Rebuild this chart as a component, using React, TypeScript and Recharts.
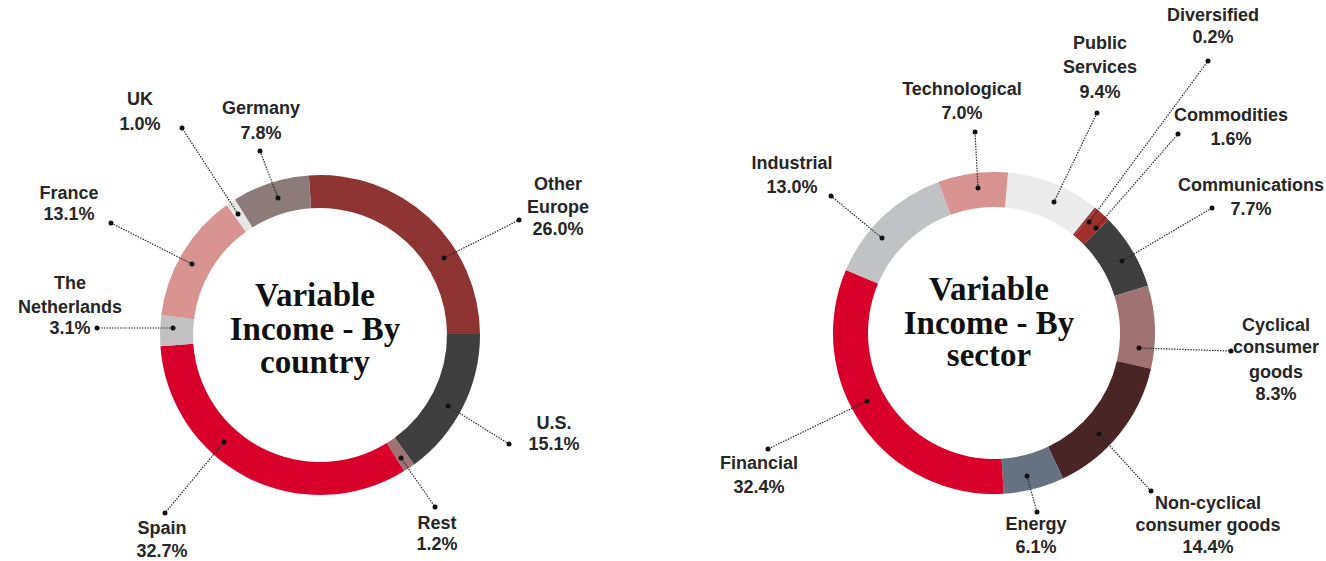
import { PieChart, Pie, Cell, Label } from "recharts";

const countryNames = ["Other Europe", "U.S.", "Rest", "Spain", "The Netherlands", "France", "UK", "Germany"];
const countryValues = [26.0, 15.1, 1.2, 32.7, 3.1, 13.1, 1.0, 7.8];
const countryColors = ["#8e3533", "#3f3f3f", "#a07474", "#d8002a", "#c1c1c1", "#d99391", "#e6e6e6", "#8c7b78"];

const sectorNames = [
  "Public Services",
  "Diversified",
  "Commodities",
  "Communications",
  "Cyclical consumer goods",
  "Non-cyclical consumer goods",
  "Energy",
  "Financial",
  "Industrial",
  "Technological",
];
const sectorValues = [9.4, 0.2, 1.6, 7.7, 8.3, 14.4, 6.1, 32.4, 13.0, 7.0];
const sectorColors = ["#ebebeb", "#8e3533", "#a0302c", "#3f3f3f", "#9f7371", "#4a2525", "#647282", "#d8002a", "#c1c2c3", "#d99391"];

const countryData = countryNames.map((name, i) => ({ name, value: countryValues[i] }));
const sectorData = sectorNames.map((name, i) => ({ name, value: sectorValues[i] }));

// label placement, offsets from the pie centre
type LabelLayout = { lines: string[]; ring: [number, number]; end: [number, number]; tx: number; ty: number[] };

const countryLabels: LabelLayout[] = [
  { lines: ["Other", "Europe"], ring: [124, -77], end: [199, -115], tx: 238, ty: [-147, -124, -102] },
  { lines: ["U.S."], ring: [128, 71], end: [189, 109], tx: 234, ty: [92, 113] },
  { lines: ["Rest"], ring: [81, 123], end: [115, 172], tx: 117, ty: [192, 213] },
  { lines: ["Spain"], ring: [-96, 107], end: [-155, 178], tx: -158, ty: [197, 220] },
  { lines: ["The", "Netherlands"], ring: [-147, -7], end: [-223, -7], tx: -250, ty: [-48, -24, -3] },
  { lines: ["France"], ring: [-128, -71], end: [-209, -112], tx: -251, ty: [-138, -117] },
  { lines: ["UK"], ring: [-82, -121], end: [-138, -207], tx: -180, ty: [-232, -207] },
  { lines: ["Germany"], ring: [-42, -137], end: [-60, -184], tx: -59, ty: [-223, -198] },
];

const sectorLabels: LabelLayout[] = [
  { lines: ["Public", "Services"], ring: [60, -131], end: [103, -220], tx: 106, ty: [-286, -262, -237] },
  { lines: ["Diversified"], ring: [95, -111], end: [214, -272], tx: 219, ty: [-314, -292] },
  { lines: ["Commodities"], ring: [102, -105], end: [184, -199], tx: 237, ty: [-214, -190] },
  { lines: ["Communications"], ring: [128, -72], end: [218, -125], tx: 257, ty: [-144, -120] },
  { lines: ["Cyclical", "consumer", "goods"], ring: [145, 15], end: [237, 18], tx: 282, ty: [-4, 18, 43, 65] },
  { lines: ["Non-cyclical", "consumer goods"], ring: [105, 101], end: [157, 158], tx: 214, ty: [174, 196, 218] },
  { lines: ["Energy"], ring: [33, 143], end: [43, 179], tx: 42, ty: [195, 218] },
  { lines: ["Financial"], ring: [-127, 68], end: [-226, 116], tx: -235, ty: [134, 158] },
  { lines: ["Industrial"], ring: [-112, -95], end: [-163, -137], tx: -202, ty: [-166, -142] },
  { lines: ["Technological"], ring: [-16, -145], end: [-19, -201], tx: -32, ty: [-240, -216] },
];

const labelFont = "'Liberation Sans', Arial, sans-serif";
const titleFont = "'Liberation Serif', 'Times New Roman', serif";

const makeLabel = (layout: LabelLayout[], fx: number, fy: number) => (props: any) => {
  const cx = typeof props.cx === "number" ? props.cx : fx;
  const cy = typeof props.cy === "number" ? props.cy : fy;
  const l = layout[props.index];
  if (!l) return null;
  const value = props.value ?? props.payload?.value;
  const lines = [...l.lines, `${Number(value).toFixed(1)}%`];
  const x1 = cx + l.ring[0];
  const y1 = cy + l.ring[1];
  const x2 = cx + l.end[0];
  const y2 = cy + l.end[1];
  return (
    <g key={`lbl-${props.index}`}>
      <line x1={x1} y1={y1} x2={x2} y2={y2} stroke="#2a2a2a" strokeWidth={1.2} strokeDasharray="1.5 1.2" />
      <circle cx={x1} cy={y1} r={2.5} fill="#111" />
      <circle cx={x2} cy={y2} r={2.5} fill="#111" />
      <text textAnchor="middle" fill="#262626" fontSize={18} fontWeight="bold" fontFamily={labelFont}>
        {lines.map((s, i) => (
          <tspan key={i} x={cx + l.tx} y={cy + l.ty[i] + 1.5}>
            {s}
          </tspan>
        ))}
      </text>
    </g>
  );
};

const makeTitle = (lines: string[], offsets: number[], fx: number, fy: number) => (props: any) => {
  const vb = props.viewBox || {};
  const cx = typeof vb.cx === "number" ? vb.cx : fx;
  const cy = typeof vb.cy === "number" ? vb.cy : fy;
  return (
    <text textAnchor="middle" fill="#111" fontSize={33} fontWeight="bold" fontFamily={titleFont}>
      {lines.map((s, i) => (
        <tspan key={i} x={cx} y={cy + offsets[i]}>
          {s}
        </tspan>
      ))}
    </text>
  );
};

export default function App() {
  return (
    <div style={{ position: "absolute", left: 0, top: 0, background: "#fff" }}>
      <PieChart width={1326} height={561}>
        <Pie
          data={countryData}
          dataKey="value"
          nameKey="name"
          cx={315}
          cy={330}
          innerRadius={127}
          outerRadius={160}
          startAngle={94}
          endAngle={-266}
          stroke="none"
          labelLine={false}
          label={makeLabel(countryLabels, 315, 330)}
          isAnimationActive={false}
        >
          {countryData.map((d, i) => (
            <Cell key={d.name} fill={countryColors[i]} />
          ))}
          <Label position="center" content={makeTitle(["Variable", "Income - By", "country"], [-24, 10, 43], 315, 330)} />
        </Pie>
        <Pie
          data={sectorData}
          dataKey="value"
          nameKey="name"
          cx={989}
          cy={328}
          innerRadius={126}
          outerRadius={161}
          startAngle={85}
          endAngle={-275}
          stroke="none"
          labelLine={false}
          label={makeLabel(sectorLabels, 989, 328)}
          isAnimationActive={false}
        >
          {sectorData.map((d, i) => (
            <Cell key={d.name} fill={sectorColors[i]} />
          ))}
          <Label position="center" content={makeTitle(["Variable", "Income - By", "sector"], [-28, 6, 38], 989, 328)} />
        </Pie>
      </PieChart>
    </div>
  );
}
